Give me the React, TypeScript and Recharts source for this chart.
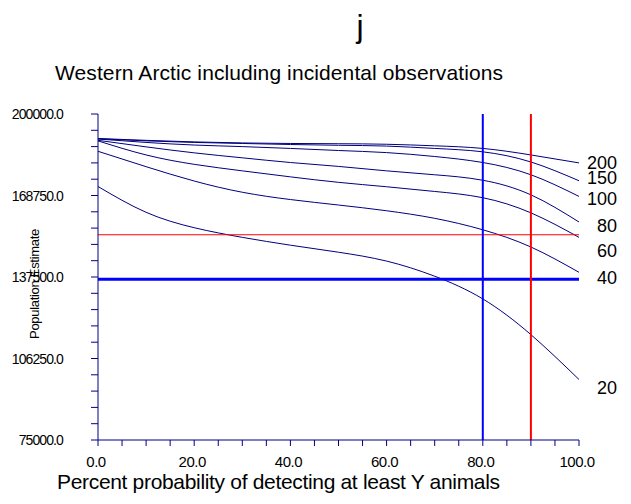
import React from 'react';
import { LineChart, Line, XAxis, YAxis, ReferenceLine } from 'recharts';

// percent probability of detecting at least Y animals
const probability = [0, 10, 20, 30, 40, 50, 60, 70, 80, 90, 100];

// population estimate for each Y (minimum number of animals detected)
const y200 = [190600, 189900, 189300, 188900, 188700, 188600, 188400, 187800, 186800, 184300, 181250];
const y150 = [190500, 189700, 189100, 188700, 188300, 188000, 187700, 186800, 185500, 181600, 174400];
const y100 = [190400, 189100, 188100, 187500, 186800, 186000, 185200, 183700, 181400, 176700, 168400];
const y80 = [189900, 187400, 185100, 183200, 181400, 179900, 178200, 176700, 174600, 169000, 158600];
const y60 = [189700, 184300, 180700, 178200, 175900, 173800, 172100, 170300, 167900, 162100, 152700];
const y40 = [185700, 179800, 174300, 170000, 167200, 165100, 162900, 160000, 155600, 149000, 139300];
const y20 = [172200, 162300, 156400, 152700, 149700, 147000, 143600, 137800, 129100, 115400, 98200];

const seriesNames = ['200', '150', '100', '80', '60', '40', '20'];
const seriesValues = [y200, y150, y100, y80, y60, y40, y20];

// reference levels
const redLevel = 153700;
const blueLevel = 136600;
const blueProb = 80;
const redProb = 90;

const xTicks = [0, 5, 10, 15, 20, 25, 30, 35, 40, 45, 50, 55, 60, 65, 70, 75, 80, 85, 90, 95, 100];
const xLabels = [0, 20, 40, 60, 80, 100];
const yTicks = [
  75000, 81250, 87500, 93750, 100000, 106250, 112500, 118750, 125000, 131250, 137500,
  143750, 150000, 156250, 162500, 168750, 175000, 181250, 187500, 193750, 200000,
];
const yLabels = [75000, 106250, 137500, 168750, 200000];

const data = probability.map((p, i) => {
  const row: any = { p };
  seriesNames.forEach((n, k) => {
    row['s' + n] = seriesValues[k][i];
  });
  return row;
});

// vertical nudge of the end labels, so they don't collide
const labelDy: Record<string, number> = { '200': 0, '150': -3, '100': 2, '80': 4, '60': 13, '40': 5, '20': 8 };

const font = '"Liberation Sans", Arial, sans-serif';
const axisColor = '#000080';
const yLabelGap = 26; // gap between tick end and y tick labels

const endLabel = (name: string) => (props: any) => {
  if (props.index !== probability.length - 1) return <g />;
  return (
    <text
      x={props.x + 38}
      y={props.y + labelDy[name]}
      dy="0.36em"
      textAnchor="end"
      fontFamily={font}
      fontSize={18}
      fill="#000"
    >
      {name}
    </text>
  );
};

const renderYTick = (props: any) => {
  const { x, y, payload } = props;
  if (!yLabels.includes(payload.value)) return <g />;
  return (
    <g transform={`translate(${x - yLabelGap},${y})`}>
      <text x={0} y={0} dy="0.36em" textAnchor="end" fontFamily={font} fontSize={14} letterSpacing={-0.9} fill="#000">
        {payload.value.toFixed(1)}
      </text>
    </g>
  );
};

const renderXTick = (props: any) => {
  const { x, y, payload } = props;
  if (!xLabels.includes(payload.value)) return <g />;
  return (
    <text x={x - 2} y={y} dy="0.71em" textAnchor="middle" fontFamily={font} fontSize={15} letterSpacing={-0.5} fill="#000">
      {payload.value.toFixed(1)}
    </text>
  );
};

export default function App() {
  return (
    <div style={{ position: 'absolute', left: 0, top: 0, width: 631, height: 504, background: '#fff' }}>
      <LineChart width={631} height={504} data={data} margin={{ top: 114, right: 52, left: 0, bottom: 0 }}>
        <XAxis
          dataKey="p"
          type="number"
          domain={[0, 100]}
          ticks={xTicks}
          interval={0}
          height={64}
          stroke={axisColor}
          tickSize={6}
          tickMargin={10}
          tick={renderXTick}
        />
        <YAxis
          type="number"
          domain={[75000, 200000]}
          ticks={yTicks}
          interval={0}
          width={98}
          stroke={axisColor}
          tickSize={7}
          tick={renderYTick}
        />
        {seriesNames.map((n) => (
          <Line
            key={n}
            dataKey={'s' + n}
            type="natural"
            stroke="#000080"
            strokeWidth={1}
            dot={false}
            isAnimationActive={false}
            label={endLabel(n)}
          />
        ))}
        <ReferenceLine y={redLevel} stroke="#ff0000" strokeWidth={1} />
        <ReferenceLine y={blueLevel} stroke="#0000ff" strokeWidth={3} />
        <ReferenceLine x={blueProb} stroke="#0000ff" strokeWidth={2} />
        <ReferenceLine x={redProb} stroke="#ff0000" strokeWidth={2} />
      </LineChart>
      <svg width={631} height={504} style={{ position: 'absolute', left: 0, top: 0, pointerEvents: 'none' }}>
        <text x={360} y={36.5} textAnchor="middle" fontFamily={font} fontSize={32} fill="#000">
          j
        </text>
        <text x={55} y={80} fontFamily={font} fontSize={21} textLength={448} lengthAdjust="spacing" fill="#000">
          Western Arctic including incidental observations
        </text>
        <text x={57} y={489} fontFamily={font} fontSize={21} textLength={443} lengthAdjust="spacing" fill="#000">
          Percent probability of detecting at least Y animals
        </text>
        <text
          x={34}
          y={284}
          transform="rotate(-90 34 284)"
          textAnchor="middle"
          dominantBaseline="central"
          fontFamily={font}
          fontSize={13}
          letterSpacing={-0.3}
          fill="#000"
        >
          Population Estimate
        </text>
      </svg>
    </div>
  );
}
